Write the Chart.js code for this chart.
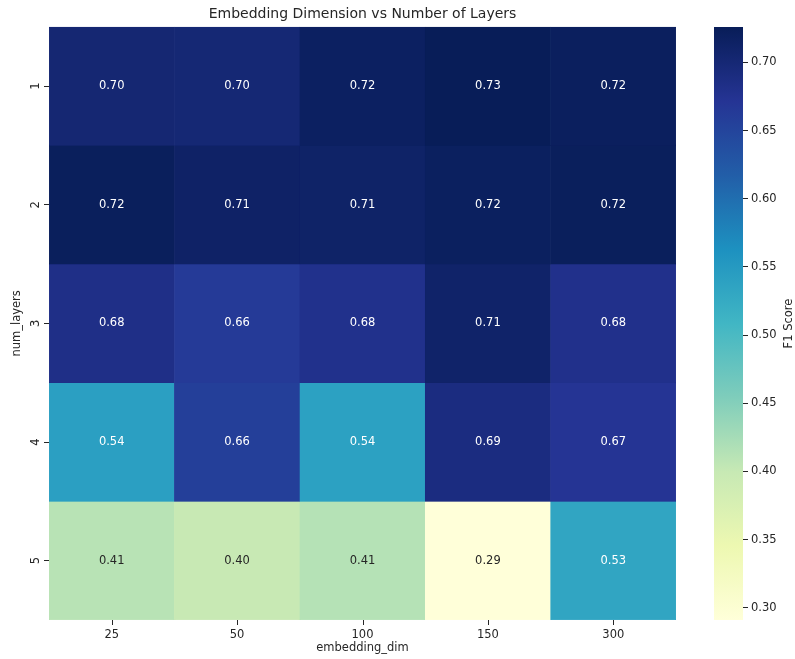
<!DOCTYPE html>
<html>
<head>
<meta charset="utf-8">
<script src="https://cdn.jsdelivr.net/npm/chart.js@4"></script>
<style>
  html, body { margin: 0; padding: 0; background: #fff; }
  #wrap { position: relative; width: 795px; height: 659px; }
  #heat { position: absolute; left: 0; top: 0; }
  #cbar { position: absolute; left: 700px; top: 0; }
</style>
</head>
<body>
<div id="wrap">
  <canvas id="heat" width="725" height="659"></canvas>
  <canvas id="cbar" width="95" height="659"></canvas>
</div>
<script>
"use strict";
const dims = ['25', '50', '100', '150', '300'];
const layers = ['1', '2', '3', '4', '5'];
// rows = num_layers, cols = embedding_dim
const f1Row1 = [0.702, 0.701, 0.718, 0.726, 0.721];
const f1Row2 = [0.722, 0.713, 0.712, 0.720, 0.722];
const f1Row3 = [0.683, 0.664, 0.679, 0.711, 0.680];
const f1Row4 = [0.542, 0.658, 0.540, 0.690, 0.672];
const f1Row5 = [0.411, 0.399, 0.413, 0.291, 0.533];
const f1Rows = [f1Row1, f1Row2, f1Row3, f1Row4, f1Row5];
const cbarTicks = [0.30, 0.35, 0.40, 0.45, 0.50, 0.55, 0.60, 0.65, 0.70];

const FONT = "'DejaVu Sans', sans-serif";
const TXT = '#262626';

// YlGnBu stops
const ylgnbu = ['#ffffd9', '#edf8b1', '#c7e9b4', '#7fcdbb', '#41b6c4', '#1d91c0', '#225ea8', '#253494', '#081d58'];

const allVals = f1Rows.flat();
const vmin = Math.min(...allVals);
const vmax = Math.max(...allVals);

function hexToRgb(h) {
    return [parseInt(h.slice(1, 3), 16), parseInt(h.slice(3, 5), 16), parseInt(h.slice(5, 7), 16)];
}
function cmap(t) {
    t = Math.max(0, Math.min(1, t));
    const pos = t * (ylgnbu.length - 1);
    const i = Math.min(Math.floor(pos), ylgnbu.length - 2);
    const f = pos - i;
    const a = hexToRgb(ylgnbu[i]), b = hexToRgb(ylgnbu[i + 1]);
    return a.map((c, k) => Math.round(c + (b[k] - c) * f));
}
function colorFor(v) {
    const c = cmap((v - vmin) / (vmax - vmin));
    return `rgb(${c[0]},${c[1]},${c[2]})`;
}
function luminance(v) {
    const c = cmap((v - vmin) / (vmax - vmin)).map(x => {
        x /= 255;
        return x <= 0.03928 ? x / 12.92 : Math.pow((x + 0.055) / 1.055, 2.4);
    });
    return 0.2126 * c[0] + 0.7152 * c[1] + 0.0722 * c[2];
}

// one dataset per row; each cell is a floating bar centred on column c+0.5, spanning [r, r+1]
const datasets = f1Rows.map((row, r) => ({
    label: layers[r],
    data: row.map((_, c) => ({ x: c + 0.5, y: [r, r + 1] })),
    values: row,
    backgroundColor: row.map(v => colorFor(v)),
    borderColor: row.map(v => colorFor(v)),
    borderWidth: 0.5,
    borderSkipped: false,
    grouped: false,
    barPercentage: 1,
    categoryPercentage: 1
}));

const annotPlugin = {
    id: 'annot',
    afterDatasetsDraw(chart) {
        const ctx = chart.ctx;
        ctx.save();
        ctx.font = `11.5px ${FONT}`;
        ctx.textAlign = 'center';
        ctx.textBaseline = 'middle';
        chart.data.datasets.forEach((ds, di) => {
            const meta = chart.getDatasetMeta(di);
            meta.data.forEach((el, i) => {
                const v = ds.values[i];
                ctx.fillStyle = luminance(v) > 0.408 ? TXT : '#ffffff';
                ctx.fillText(v.toFixed(2), el.x, (el.y + el.base) / 2);
            });
        });
        ctx.restore();
    }
};

// small tick marks under each column centre, placed by the x scale
const xTickMarks = {
    id: 'xTickMarks',
    afterDraw(chart) {
        const ctx = chart.ctx;
        const xs = chart.scales.x;
        const top = chart.chartArea.bottom;
        ctx.save();
        ctx.strokeStyle = TXT;
        ctx.lineWidth = 1;
        ctx.beginPath();
        dims.forEach((_, i) => {
            const px = Math.round(xs.getPixelForValue(i + 0.5)) + 0.5;
            ctx.moveTo(px, top);
            ctx.lineTo(px, top + 5);
        });
        ctx.stroke();
        ctx.restore();
    }
};

new Chart(document.getElementById('heat'), {
    type: 'bar',
    data: { datasets: datasets },
    options: {
        responsive: false,
        animation: false,
        plugins: {
            legend: { display: false },
            tooltip: { enabled: false },
            title: {
                display: true,
                text: 'Embedding Dimension vs Number of Layers',
                color: TXT,
                font: { family: FONT, size: 14, weight: 'normal' },
                padding: { top: 6, bottom: 4 }
            }
        },
        scales: {
            x: {
                type: 'linear',
                offset: false,
                min: 0,
                max: 5,
                afterBuildTicks(s) { s.ticks = dims.map((_, i) => ({ value: i + 0.5 })); },
                grid: { display: false, drawTicks: false },
                border: { display: false },
                ticks: { color: TXT, font: { family: FONT, size: 11.5 }, padding: 8, maxRotation: 0, callback: (v) => dims[Math.floor(v)] },
                title: { display: true, text: 'embedding_dim', color: TXT, font: { family: FONT, size: 11.5 }, padding: { top: 2, bottom: 4 } },
                afterFit(s) { s.height = 39; }
            },
            y: {
                type: 'linear',
                reverse: true,
                min: 0,
                max: 5,
                afterBuildTicks(s) { s.ticks = layers.map((_, i) => ({ value: i + 0.5 })); },
                grid: { display: true, drawOnChartArea: false, tickLength: 5, color: TXT },
                border: { display: false },
                ticks: {
                    color: TXT,
                    font: { family: FONT, size: 11.5 },
                    padding: 4,
                    minRotation: 90,
                    maxRotation: 90,
                    crossAlign: 'center',
                    callback: (v) => layers[Math.floor(v)]
                },
                title: { display: true, text: 'num_layers', color: TXT, font: { family: FONT, size: 11.5 }, padding: { top: 10, bottom: 0 } },
                afterFit(s) { s.width = 49; }
            },
            // empty right gutter so the title centres over the cells
            yGutter: {
                type: 'linear',
                position: 'right',
                grid: { display: false },
                border: { display: false },
                ticks: { display: false },
                afterFit(s) { s.width = 49; }
            }
        }
    },
    plugins: [annotPlugin, xTickMarks]
});

// colorbar
const cbarTitle = {
    id: 'cbarTitle',
    afterDraw(chart) {
        const ctx = chart.ctx;
        const a = chart.chartArea;
        ctx.save();
        ctx.translate(89, (a.top + a.bottom) / 2);
        ctx.rotate(-Math.PI / 2);
        ctx.font = `11.5px ${FONT}`;
        ctx.fillStyle = TXT;
        ctx.textAlign = 'center';
        ctx.textBaseline = 'middle';
        ctx.fillText('F1 Score', 0, 0);
        ctx.restore();
    }
};

new Chart(document.getElementById('cbar'), {
    type: 'bar',
    data: {
        labels: ['F1'],
        datasets: [{
            data: [[vmin, vmax]],
            barPercentage: 1,
            categoryPercentage: 1,
            borderWidth: 0,
            backgroundColor(c) {
                const area = c.chart.chartArea;
                if (!area) return ylgnbu[4];
                const g = c.chart.ctx.createLinearGradient(0, area.bottom, 0, area.top);
                ylgnbu.forEach((col, i) => g.addColorStop(i / (ylgnbu.length - 1), col));
                return g;
            }
        }]
    },
    options: {
        responsive: false,
        animation: false,
        layout: { padding: { left: 14, top: 27, bottom: 39, right: 0 } },
        plugins: { legend: { display: false }, tooltip: { enabled: false } },
        scales: {
            x: { display: false },
            y: {
                position: 'right',
                min: vmin,
                max: vmax,
                afterBuildTicks(s) { s.ticks = cbarTicks.map(v => ({ value: v })); },
                grid: { display: true, drawOnChartArea: false, tickLength: 5, color: TXT },
                border: { display: false },
                ticks: { color: TXT, font: { family: FONT, size: 11.5 }, padding: 3, callback: v => v.toFixed(2) },
                afterFit(s) { s.width = 52; }
            }
        }
    },
    plugins: [cbarTitle]
});
</script>
</body>
</html>
